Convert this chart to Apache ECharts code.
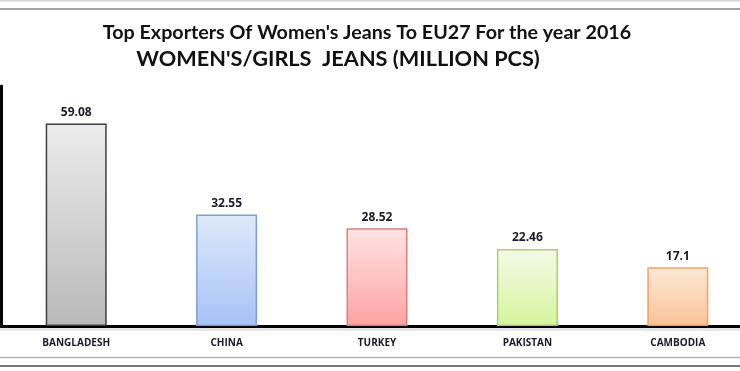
<!DOCTYPE html>
<html>
<head>
<meta charset="utf-8">
<script src="https://cdn.jsdelivr.net/npm/echarts@6/dist/echarts.min.js"></script>
<style>html,body{margin:0;padding:0;background:#fff;overflow:hidden;}#c{width:753px;height:371px;}</style>
</head>
<body>
<div id="c"></div>
<script>
var categories = ['BANGLADESH', 'CHINA', 'TURKEY', 'PAKISTAN', 'CAMBODIA'];
var values = [59.08, 32.55, 28.52, 22.46, 17.1];
var labels = ['59.08', '32.55', '28.52', '22.46', '17.1'];
var titleLine1 = "Top Exporters Of Women's Jeans To EU27 For the year 2016";
var titleLine2 = "WOMEN'S/GIRLS  JEANS (MILLION PCS)";

var styles = [
  {top: '#ececec', bottom: '#bababa', border: '#3f3f3f'},
  {top: '#dfe9fb', bottom: '#a6c3f6', border: '#7b9fd6'},
  {top: '#ffe3e3', bottom: '#ffa3a3', border: '#d97f7f'},
  {top: '#f3fbe8', bottom: '#d6f59c', border: '#a8cf70'},
  {top: '#fde8d6', bottom: '#fcc298', border: '#f7a15d'}
];

var chart = echarts.init(document.getElementById('c'), null, {renderer: 'canvas'});
var data = values.map(function (v, i) {
  var s = styles[i];
  return {
    value: v,
    itemStyle: {
      color: new echarts.graphic.LinearGradient(0, 0, 0, 1, [
        {offset: 0, color: s.top}, {offset: 1, color: s.bottom}
      ]),
      borderColor: s.border,
      borderWidth: 1.5
    }
  };
});

chart.setOption({
  animation: false,
  backgroundColor: '#ffffff',
  title: [
    {text: titleLine1, left: 362, top: 18, textAlign: 'center',
     textStyle: {fontFamily: 'Lato', fontWeight: 'bold', fontSize: 19.7, color: '#111'}},
    {text: titleLine2, left: 333, top: 43, textAlign: 'center',
     textStyle: {fontFamily: 'Lato', fontWeight: 'bold', fontSize: 21.7, color: '#111'}}
  ],
  graphic: [
    {type: 'line', shape: {x1: 0, y1: 0.5, x2: 753, y2: 0.5}, style: {stroke: '#d4d4d4', lineWidth: 2}},
    {type: 'line', shape: {x1: 0, y1: 9, x2: 753, y2: 9}, style: {stroke: '#a2a2a2', lineWidth: 2}},
    {type: 'rect', shape: {x: 0, y: 328, width: 753, height: 3}, style: {fill: '#e6e6e6'}},
    {type: 'line', shape: {x1: 0, y1: 357.5, x2: 753, y2: 357.5}, style: {stroke: '#b4b4b4', lineWidth: 1.5}},
    {type: 'line', shape: {x1: 0, y1: 366, x2: 753, y2: 366}, style: {stroke: '#777', lineWidth: 2}}
  ],
  grid: {left: 1, top: 86, bottom: 45, right: 0, containLabel: false},
  xAxis: {
    type: 'category',
    data: categories,
    axisLine: {lineStyle: {color: '#000', width: 3}},
    axisTick: {show: false},
    axisLabel: {fontFamily: 'Open Sans', fontWeight: 'bold', fontSize: 10, color: '#1a1a2a', margin: 12, interval: 0}
  },
  yAxis: {
    type: 'value',
    min: 0, max: 70,
    axisLine: {show: true, lineStyle: {color: '#000', width: 3}},
    axisTick: {show: false},
    axisLabel: {show: false},
    splitLine: {show: false}
  },
  series: [{
    type: 'bar',
    data: data,
    barWidth: 61,
    label: {
      show: true, position: 'top', distance: 5,
      formatter: function (p) { return labels[p.dataIndex]; },
      fontFamily: 'Open Sans', fontWeight: 'bold', fontSize: 12, color: '#1a1a2a'
    }
  }]
});
</script>
</body>
</html>
